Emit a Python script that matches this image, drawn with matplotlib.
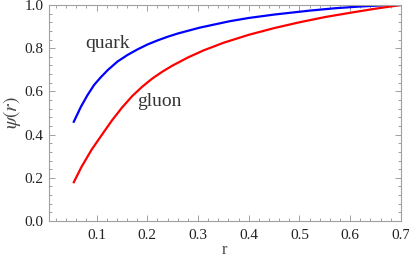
import matplotlib
matplotlib.use("Agg")
import matplotlib.pyplot as plt
from matplotlib.ticker import MultipleLocator

# values
r_quark = [0.054, 0.069, 0.082, 0.095, 0.108, 0.122, 0.141, 0.161, 0.181,
           0.201, 0.220, 0.240, 0.260, 0.303, 0.3625, 0.400, 0.451, 0.520,
           0.570, 0.619, 0.660, 0.700]
psi_quark = [0.455, 0.529, 0.583, 0.630, 0.665, 0.699, 0.738, 0.769, 0.795,
             0.818, 0.836, 0.853, 0.868, 0.895, 0.925, 0.940, 0.956, 0.974,
             0.985, 0.993, 0.998, 1.000]

r_gluon = [0.054, 0.070, 0.090, 0.110, 0.130, 0.150, 0.170, 0.190, 0.210,
           0.230, 0.250, 0.280, 0.310, 0.350, 0.400, 0.450, 0.500, 0.550,
           0.600, 0.650, 0.700]
psi_gluon = [0.175, 0.250, 0.330, 0.398, 0.465, 0.525, 0.578, 0.622, 0.660,
             0.692, 0.720, 0.757, 0.789, 0.825, 0.862, 0.893, 0.920, 0.944,
             0.964, 0.983, 1.000]

x_ticks = [0.1, 0.2, 0.3, 0.4, 0.5, 0.6, 0.7]
y_ticks = [0.0, 0.2, 0.4, 0.6, 0.8, 1.0]

plt.rcParams["font.family"] = "Liberation Serif"
plt.rcParams["mathtext.fontset"] = "stix"

fig = plt.figure(figsize=(4.09, 2.57), dpi=100)
ax = fig.add_axes([0.12, 0.14, 0.86, 0.8405])

ax.plot(r_quark, psi_quark, color="#0000ff", lw=1.6, solid_capstyle="butt")
ax.plot(r_gluon, psi_gluon, color="#ff0000", lw=1.6, solid_capstyle="butt")

ax.text(0.122, 0.82, "quark", fontsize=14, color="#333333", ha="center", va="center")
ax.text(0.224, 0.551, "gluon", fontsize=14, color="#333333", ha="center", va="center")

ax.set_xlim(0.0062, 0.7)
ax.set_ylim(0.0, 1.0)
ax.set_xticks(x_ticks)
ax.set_xticklabels([f"{t:.1f}" for t in x_ticks])
ax.set_yticks(y_ticks)
ax.set_yticklabels([f"{t:.1f}" for t in y_ticks])
ax.xaxis.set_minor_locator(MultipleLocator(0.02))
ax.yaxis.set_minor_locator(MultipleLocator(0.04))

frame_col = "#a0a0a0"
for s in ax.spines.values():
    s.set_color(frame_col)
    s.set_linewidth(0.8)
ax.tick_params(which="both", direction="in", top=True, right=True,
               color=frame_col, labelcolor="#222222", labelsize=11, width=0.7)
ax.tick_params(which="major", length=4)
ax.tick_params(axis="x", which="major", pad=6)
ax.tick_params(axis="y", which="major", pad=4)
ax.tick_params(which="minor", length=2)

ax.set_xlabel("r", fontsize=12, color="#444444", labelpad=0)
ax.set_ylabel(r"$\psi(r)$", fontsize=14, color="#444444", labelpad=1)

fig.savefig("out.png", dpi=100)
